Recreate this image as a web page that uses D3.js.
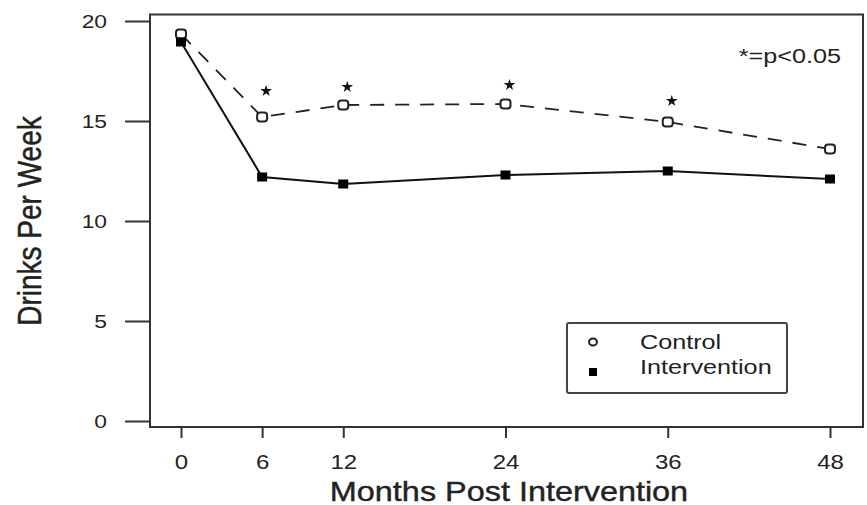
<!DOCTYPE html>
<html>
<head>
<meta charset="utf-8">
<script src="https://cdn.jsdelivr.net/npm/d3@7"></script>
<style>
  body { margin: 0; background: #fff; }
  svg { display: block; }
  text { font-family: "Liberation Sans", Arial, sans-serif; fill: #222; }
</style>
</head>
<body>
<div class="chart"></div>
<script>
var svgWidth = 867;
var svgHeight = 505;

// Data
var months = [0, 6, 12, 24, 36, 48];
var controlDrinks = [19.35, 15.2, 15.8, 15.85, 14.95, 13.6];
var interventionDrinks = [18.95, 12.2, 11.85, 12.3, 12.5, 12.1];
var sigMonths = [6, 12, 24, 36];
var starLevels = [16.5, 16.7, 16.8, 16.0];
var yTicks = [0, 5, 10, 15, 20];
var seriesNames = ["Control", "Intervention"];

// the scan is stretched sideways, so text gets the same stretch
var stretch = 1.2;

var svg = d3.select(".chart")
  .append("svg")
  .attr("width", svgWidth)
  .attr("height", svgHeight);

// Step 1: scales
var xScale = d3.scaleLinear().domain([0, 48]).range([181, 830]);
var yScale = d3.scaleLinear().domain([0, 20]).range([421, 21]);

// Step 2: frame
svg.append("rect")
  .attr("x", 150)
  .attr("y", 14.5)
  .attr("width", 713)
  .attr("height", 412.5)
  .attr("fill", "none")
  .attr("stroke", "#333")
  .attr("stroke-width", 2);

// Step 3: axes
var leftAxis = d3.axisLeft(yScale).tickValues(yTicks).tickSize(24).tickPadding(18);
var yAxisG = svg.append("g")
  .attr("transform", "translate(149,0)")
  .call(leftAxis);
yAxisG.select(".domain").remove();
yAxisG.selectAll("line").attr("stroke", "#333").attr("stroke-width", 2);
yAxisG.selectAll("text")
  .attr("font-size", 19)
  .attr("font-family", "Liberation Sans, Arial, sans-serif")
  .attr("fill", "#222")
  .attr("x", -42 / stretch)
  .attr("transform", `scale(${stretch},1)`);

var bottomAxis = d3.axisBottom(xScale).tickValues(months).tickSize(11).tickPadding(17);
var xAxisG = svg.append("g")
  .attr("transform", "translate(0,427)")
  .call(bottomAxis);
xAxisG.select(".domain").remove();
xAxisG.selectAll("line").attr("stroke", "#333").attr("stroke-width", 2);
xAxisG.selectAll("text")
  .attr("font-size", 20)
  .attr("font-family", "Liberation Sans, Arial, sans-serif")
  .attr("fill", "#222")
  .attr("transform", `scale(${stretch},1)`);

// Step 4: lines
var line = d3.line()
  .x(d => xScale(d[0]))
  .y(d => yScale(d[1]));

var controlData = months.map((m, i) => [m, controlDrinks[i]]);
var interventionData = months.map((m, i) => [m, interventionDrinks[i]]);

svg.append("path")
  .attr("d", line(controlData))
  .attr("fill", "none")
  .attr("stroke", "#222")
  .attr("stroke-width", 1.8)
  .attr("stroke-dasharray", "14,11");

svg.append("path")
  .attr("d", line(interventionData))
  .attr("fill", "none")
  .attr("stroke", "#111")
  .attr("stroke-width", 2);

// Step 5: markers
svg.selectAll(".ctrl")
  .data(controlData)
  .enter()
  .append("rect")
  .attr("class", "ctrl")
  .attr("x", d => xScale(d[0]) - 5)
  .attr("y", d => yScale(d[1]) - 4.5)
  .attr("width", 10)
  .attr("height", 9)
  .attr("rx", 3)
  .attr("fill", "#fff")
  .attr("stroke", "#222")
  .attr("stroke-width", 2);

svg.selectAll(".intv")
  .data(interventionData)
  .enter()
  .append("rect")
  .attr("class", "intv")
  .attr("x", d => xScale(d[0]) - 5)
  .attr("y", d => yScale(d[1]) - 4.5)
  .attr("width", 10)
  .attr("height", 9)
  .attr("fill", "#000");

// significance stars
svg.selectAll(".star")
  .data(sigMonths)
  .enter()
  .append("path")
  .attr("class", "star")
  .attr("d", d3.symbol(d3.symbolStar).size(42))
  .attr("transform", (d, i) => `translate(${xScale(d) + 4},${yScale(starLevels[i])})`)
  .attr("fill", "#111");

svg.append("text")
  .attr("transform", `translate(841,63) scale(${stretch},1)`)
  .attr("text-anchor", "end")
  .attr("font-size", 21)
  .text("*=p<0.05");

// Step 6: legend
svg.append("rect")
  .attr("x", 567)
  .attr("y", 323)
  .attr("width", 220)
  .attr("height", 70)
  .attr("rx", 2)
  .attr("fill", "#fff")
  .attr("stroke", "#444")
  .attr("stroke-width", 2);

svg.append("ellipse")
  .attr("cx", 593)
  .attr("cy", 342)
  .attr("rx", 4)
  .attr("ry", 3.5)
  .attr("fill", "#fff")
  .attr("stroke", "#222")
  .attr("stroke-width", 2);

svg.append("rect")
  .attr("x", 589)
  .attr("y", 368)
  .attr("width", 8)
  .attr("height", 8)
  .attr("fill", "#000");

svg.selectAll(".legText")
  .data(seriesNames)
  .enter()
  .append("text")
  .attr("class", "legText")
  .attr("transform", (d, i) => `translate(640,${349 + i * 25}) scale(${stretch},1)`)
  .attr("font-size", 21)
  .text(d => d);

// Step 7: axis titles
svg.append("text")
  .attr("transform", `translate(41,221) scale(${stretch},1) rotate(-90)`)
  .attr("text-anchor", "middle")
  .attr("font-size", 28)
  .attr("stroke", "#222")
  .attr("stroke-width", 0.4)
  .text("Drinks Per Week");

svg.append("text")
  .attr("transform", `translate(509,501) scale(${stretch},1)`)
  .attr("text-anchor", "middle")
  .attr("font-size", 27)
  .attr("stroke", "#222")
  .attr("stroke-width", 0.4)
  .text("Months Post Intervention");
</script>
</body>
</html>
